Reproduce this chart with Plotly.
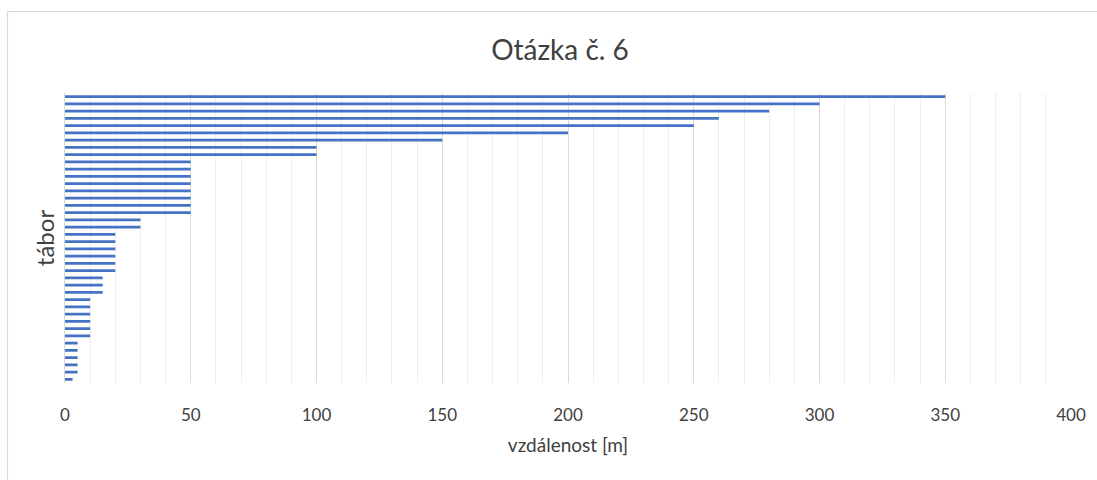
import plotly.graph_objects as go

# Category order: bottom to top (as in the Excel bar chart)
categories = [f"t{i}" for i in range(1, 41)]
values = [3, 5, 5, 5, 5, 5,
          10, 10, 10, 10, 10, 10,
          15, 15, 15,
          20, 20, 20, 20, 20, 20,
          30, 30,
          50, 50, 50, 50, 50, 50, 50, 50,
          100, 100, 150, 200, 250, 260, 280, 300, 350]
x_ticks = [0, 50, 100, 150, 200, 250, 300, 350, 400]

W, H = 1097, 480
L, R, T, B = 65, 26, 93, 97
pw, ph = W - L - R, H - T - B

fig = go.Figure(go.Bar(
    x=values, y=categories, orientation="h",
    marker=dict(color="#4472C4", line=dict(width=0)),
    hoverinfo="x",
))

grey = "#595959"
dark = "#404040"
font_fam = "Lato, Open Sans, sans-serif"
fig.update_layout(
    width=W, height=H,
    margin=dict(l=L, r=R, t=T, b=B, autoexpand=False),
    paper_bgcolor="white", plot_bgcolor="white",
    bargap=0.62,
    showlegend=False,
    title=dict(text="Otázka č. 6", x=(560 - L) / pw, xref="paper", xanchor="center",
               y=1 - 50 / H, yanchor="middle",
               font=dict(family=font_fam, size=28, color=dark)),
    xaxis=dict(
        range=[0, 400], tickvals=x_ticks, ticktext=[str(v) for v in x_ticks],
        showgrid=True, gridcolor="#D9D9D9", gridwidth=1,
        minor=dict(dtick=10, showgrid=True, gridcolor="#EDEDED", gridwidth=1),
        zeroline=False, showline=False,
        ticks="", ticklabelstandoff=20,
        tickfont=dict(family=font_fam, size=17, color=dark),
        title=dict(text="vzdálenost [m]", standoff=14,
                   font=dict(family=font_fam, size=19, color=dark)),
        fixedrange=True,
    ),
    yaxis=dict(
        categoryorder="array", categoryarray=categories,
        showticklabels=False, ticks="", showgrid=False,
        showline=True, linecolor="#D9D9D9", linewidth=1,
        zeroline=False,
        title=dict(text="tábor", standoff=2,
                   font=dict(family=font_fam, size=24, color=dark)),
        fixedrange=True,
    ),
)

# chart-area border (top and left edges visible in the reference)
bx0 = (7.5 - L) / pw
by1 = (H - B - 11.5) / ph
fig.add_shape(type="line", xref="paper", yref="paper",
              x0=bx0, x1=(W + 5 - L) / pw, y0=by1, y1=by1,
              line=dict(color="#D9D9D9", width=1.2))
fig.add_shape(type="line", xref="paper", yref="paper",
              x0=bx0, x1=bx0, y0=by1, y1=(H - B - H - 5) / ph,
              line=dict(color="#D9D9D9", width=1.2))

fig.write_html(
    "out.html",
    config={"displayModeBar": False},
    post_script="document.body.style.margin='0';document.body.style.overflow='hidden';",
)
